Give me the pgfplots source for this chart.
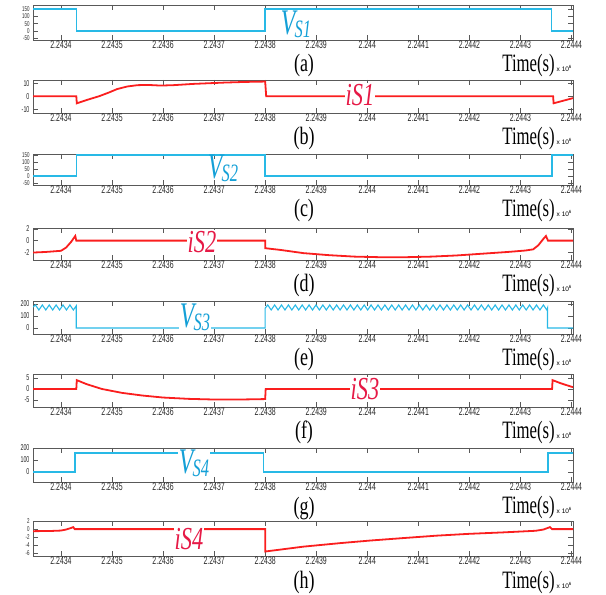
\documentclass[border=0pt]{standalone}
\usepackage{fontspec}
\setmainfont{Liberation Serif}
\setsansfont{Liberation Sans}
\usepackage{graphicx}
\usepackage{pgfplots}
\pgfplotsset{compat=1.18}
\definecolor{cy}{RGB}{40,185,230}
\definecolor{rd}{RGB}{250,30,30}
\definecolor{lcy}{RGB}{20,160,215}
\definecolor{lrd}{RGB}{230,25,70}
\newcommand\tk[1]{\scalebox{0.63}[1]{#1}}
\newcommand\VS[1]{\scalebox{0.66}[1]{\fontsize{36}{36}\selectfont\itshape V\kern-1pt\raisebox{-3pt}{\fontsize{25}{25}\selectfont S#1}}}
\newcommand\IS[1]{\scalebox{0.7}[1]{\fontsize{32}{32}\selectfont\itshape iS#1}}
\newcommand\PL[1]{\scalebox{0.72}[1]{\fontsize{25}{25}\selectfont(#1)}}
\newcommand\TM{\scalebox{0.67}[1]{\fontsize{25}{25}\selectfont Time(s)}}
\newcommand\XS{{\sffamily\fontsize{6.5}{6.5}\selectfont x 10\raisebox{3pt}{\fontsize{4.5}{4.5}\selectfont 6}}}
\pgfplotsset{
  sw/.style={
    scale only axis, width=540pt, anchor=south west,
    xmin=-0.548, xmax=10.03,
    xtick={0,1,...,10},
    xticklabels={\tk{2.2434},\tk{2.2435},\tk{2.2436},\tk{2.2437},\tk{2.2438},\tk{2.2439},\tk{2.244},\tk{2.2441},\tk{2.2442},\tk{2.2443},\tk{2.2444}},
    tick align=inside, major tick length=5pt,
    axis line style={draw=black!65, line width=0.9pt},
    tick style={draw=black!65, line width=0.7pt},
    xticklabel style={font=\sffamily\fontsize{11}{11}\selectfont, text=black!85, yshift=1.5pt, inner ysep=2pt},
    yticklabel style={font=\sffamily\fontsize{8.5}{8.5}\selectfont, text=black!85},
  },
  dense/.style={yticklabel style={font=\sffamily\fontsize{7}{7}\selectfont, inner ysep=0pt}},
  cyl/.style={color=cy, line width=1.5pt},
  rdl/.style={color=rd, line width=1.8pt},
}
\begin{document}
\begin{tikzpicture}
\path[use as bounding box] (0,0) rectangle (606pt,595pt);
% (a)
\begin{axis}[sw, dense, at={(33pt,555pt)}, height=35pt, ymin=-61, ymax=177,
  ytick={-50,0,50,100,150}, yticklabels={\tk{-50},\tk{0},\tk{50},\tk{100},\tk{150}}]
\addplot[cyl] coordinates {(-0.548,150) (0.30,150) (0.30,0) (4.0,0) (4.0,150) (9.61,150) (9.61,0) (10.03,0)};
\end{axis}
% (b)
\begin{axis}[sw, at={(33pt,482pt)}, height=33pt, ymin=-13, ymax=12.5,
  ytick={-10,0,10}, yticklabels={\tk{-10},\tk{0},\tk{10}}]
\addplot[rdl] coordinates {(-0.548,0) (0.30,0) (0.31,-5.5) (0.5,-3) (0.75,0) (0.95,3) (1.1,5.5) (1.3,7.5) (1.5,8.5) (1.7,8.7) (1.95,8.2) (2.2,8.5) (2.6,9.5) (3.2,10.5) (3.6,11) (4.0,11.3) (4.02,0) (9.64,0) (9.65,-5.5) (10.03,-1.5)};
\end{axis}
% (c)
\begin{axis}[sw, dense, at={(33pt,410pt)}, height=31pt, ymin=-65, ymax=158,
  ytick={-50,0,50,100,150}, yticklabels={\tk{-50},\tk{0},\tk{50},\tk{100},\tk{150}}]
\addplot[cyl] coordinates {(-0.548,0) (0.30,0) (0.30,150) (4.0,150) (4.0,0) (9.62,0) (9.62,150) (10.03,150)};
\end{axis}
% (d)
\begin{axis}[sw, at={(33pt,335pt)}, height=32pt, ymin=-3.33, ymax=2.17,
  ytick={-2,0,2}, yticklabels={\tk{-2},\tk{0},\tk{2}}]
\addplot[rdl] coordinates {(-0.548,-2.05) (-0.3,-1.95) (0.0,-1.75) (0.1,-1.2) (0.2,-0.2) (0.28,0.8) (0.30,0) (4.0,0) (4.0,-1.3) (4.3,-1.6) (4.75,-2.15) (5.25,-2.5) (5.75,-2.75) (6.25,-2.85) (6.75,-2.85) (7.25,-2.75) (7.75,-2.55) (8.25,-2.25) (8.75,-1.95) (9.1,-1.7) (9.25,-1.5) (9.35,-0.8) (9.45,0.3) (9.50,0.8) (9.54,0) (10.03,0)};
\end{axis}
% (e)
\begin{axis}[sw, at={(33pt,261pt)}, height=33pt, ymin=-50, ymax=225,
  ytick={0,100,200}, yticklabels={\tk{0},\tk{100},\tk{200}}]
\addplot[color=cy, line width=1.1pt] coordinates {(-0.548,175) (-0.50,192) (-0.4325,150) (-0.365,192) (-0.2975,150) (-0.23,192) (-0.1625,150) (-0.095,192) (-0.0275,150) (0.04,192) (0.1075,150) (0.175,192) (0.2425,150) (0.30,185) (0.30,0) (4.0,0) (4.0,165)
(4.05,192) (4.1175,150) (4.185,192) (4.2525,150) (4.32,192) (4.3875,150) (4.455,192) (4.5225,150) (4.59,192) (4.6575,150) (4.725,192) (4.7925,150) (4.86,192) (4.9275,150) (4.995,192) (5.0625,150) (5.13,192) (5.1975,150) (5.265,192) (5.3325,150) (5.40,192) (5.4675,150) (5.535,192) (5.6025,150) (5.67,192) (5.7375,150) (5.805,192) (5.8725,150) (5.94,192) (6.0075,150) (6.075,192) (6.1425,150) (6.21,192) (6.2775,150) (6.345,192) (6.4125,150) (6.48,192) (6.5475,150) (6.615,192) (6.6825,150) (6.75,192) (6.8175,150) (6.885,192) (6.9525,150) (7.02,192) (7.0875,150) (7.155,192) (7.2225,150) (7.29,192) (7.3575,150) (7.425,192) (7.4925,150) (7.56,192) (7.6275,150) (7.695,192) (7.7625,150) (7.83,192) (7.8975,150) (7.965,192) (8.0325,150) (8.10,192) (8.1675,150) (8.235,192) (8.3025,150) (8.37,192) (8.4375,150) (8.505,192) (8.5725,150) (8.64,192) (8.7075,150) (8.775,192) (8.8425,150) (8.91,192) (8.9775,150) (9.045,192) (9.1125,150) (9.18,192) (9.2475,150) (9.315,192) (9.3825,150) (9.45,192) (9.5175,150) (9.53,165) (9.53,0) (10.03,0)};
\end{axis}
% (f)
\begin{axis}[sw, at={(33pt,188pt)}, height=33pt, ymin=-8.2, ymax=6.8,
  ytick={-5,0,5}, yticklabels={\tk{-5},\tk{0},\tk{5}}]
\addplot[rdl] coordinates {(-0.548,0) (0.30,0) (0.31,4) (0.5,2.2) (0.8,0) (1.2,-1.8) (1.6,-3.0) (2.0,-3.9) (2.5,-4.5) (3.0,-4.8) (3.5,-4.8) (4.0,-4.6) (4.01,0) (9.62,0) (9.63,4) (9.8,2.5) (10.03,0.8)};
\end{axis}
% (g)
\begin{axis}[sw, at={(33pt,113pt)}, height=34pt, ymin=-83, ymax=200,
  ytick={0,100,200}, yticklabels={\tk{0},\tk{100},\tk{200}}]
\addplot[cyl] coordinates {(-0.548,0) (0.27,0) (0.27,160) (3.97,160) (3.97,0) (9.54,0) (9.54,160) (10.03,160)};
\end{axis}
% (h)
\begin{axis}[sw, dense, at={(33pt,39pt)}, height=35pt, ymin=-6.6, ymax=2,
  ytick={-6,-4,-2,0,2}, yticklabels={\tk{-6},\tk{-4},\tk{-2},\tk{0},\tk{2}}]
\addplot[rdl] coordinates {(-0.548,-0.5) (-0.2,-0.45) (0.0,-0.35) (0.1,-0.1) (0.2,0.3) (0.24,0.5) (0.27,0) (4.0,0) (4.0,-5.5) (4.75,-4.3) (5.5,-3.4) (6.06,-2.8) (6.7,-2.2) (7.36,-1.6) (8.0,-1.15) (8.66,-0.8) (9.3,-0.4) (9.45,-0.1) (9.58,0.5) (9.62,0) (10.03,0)};
\end{axis}
% series labels
\node[text=lcy, inner sep=0pt] at (296pt,571pt) {\VS1};
\node[text=lrd, fill=white, inner sep=1pt] at (360pt,500pt) {\IS1};
\node[text=lcy, inner sep=0pt] at (223pt,427pt) {\VS2};
\node[text=lrd, fill=white, inner sep=1pt] at (202pt,353pt) {\IS2};
\node[text=lcy, fill=white, inner sep=1pt] at (195pt,278pt) {\VS3};
\node[text=lrd, fill=white, inner sep=1pt] at (365pt,206pt) {\IS3};
\node[text=lcy, fill=white, inner sep=1pt] at (194pt,132pt) {\VS4};
\node[text=lrd, fill=white, inner sep=1pt] at (189pt,56pt) {\IS4};
% panel labels, time labels
\foreach \B/\L/\o/\t in {40/a/32/32, 113/b/32/32, 185/c/32/32, 260/d/32/32, 334/e/32/32, 407/f/32/32, 482/g/33/32, 556/h/33/33} {
  \node[anchor=base, inner sep=0pt] at (304pt,{(595-\B-\o)*1pt}) {\PL{\L}};
  \node[anchor=base east, inner sep=0pt] at (555pt,{(595-\B-\t)*1pt}) {\TM};
  \node[anchor=base west, inner sep=0pt] at (556.5pt,{(595-\B-\t)*1pt}) {\XS};
}
\end{tikzpicture}
\end{document}
